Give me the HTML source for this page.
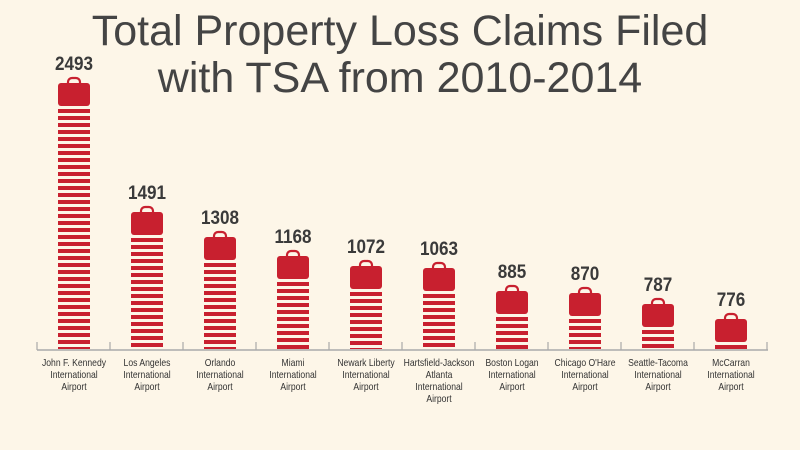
<!DOCTYPE html>
<html><head><meta charset="utf-8"><style>
body{margin:0;background:#fdf6e8;}
svg{display:block}
</style></head><body>
<svg width="800" height="450" xmlns="http://www.w3.org/2000/svg">
<defs>
<pattern id="p0" patternUnits="userSpaceOnUse" x="0" y="109" width="800" height="7"><rect width="800" height="4" fill="#c8202f"/></pattern>
<pattern id="p1" patternUnits="userSpaceOnUse" x="0" y="238" width="800" height="7"><rect width="800" height="4" fill="#c8202f"/></pattern>
<pattern id="p2" patternUnits="userSpaceOnUse" x="0" y="263" width="800" height="7"><rect width="800" height="4" fill="#c8202f"/></pattern>
<pattern id="p3" patternUnits="userSpaceOnUse" x="0" y="282" width="800" height="7"><rect width="800" height="4" fill="#c8202f"/></pattern>
<pattern id="p4" patternUnits="userSpaceOnUse" x="0" y="292" width="800" height="7"><rect width="800" height="4" fill="#c8202f"/></pattern>
<pattern id="p5" patternUnits="userSpaceOnUse" x="0" y="294" width="800" height="7"><rect width="800" height="4" fill="#c8202f"/></pattern>
<pattern id="p6" patternUnits="userSpaceOnUse" x="0" y="317" width="800" height="7"><rect width="800" height="4" fill="#c8202f"/></pattern>
<pattern id="p7" patternUnits="userSpaceOnUse" x="0" y="319" width="800" height="7"><rect width="800" height="4" fill="#c8202f"/></pattern>
<pattern id="p8" patternUnits="userSpaceOnUse" x="0" y="330" width="800" height="7"><rect width="800" height="4" fill="#c8202f"/></pattern>
</defs>
<rect width="800" height="450" fill="#fdf6e8"/>
<g font-family="Liberation Sans, sans-serif" fill="#444" font-size="43" text-anchor="middle">
<text x="400" y="45">Total Property Loss Claims Filed</text>
<text x="400" y="92">with TSA from 2010-2014</text>
</g>
<line x1="37" y1="350" x2="768" y2="350" stroke="#aaa" stroke-width="1.5"/>
<g stroke="#aaa" stroke-width="1.2">
<line x1="37" y1="342" x2="37" y2="350"/><line x1="110" y1="342" x2="110" y2="350"/><line x1="183" y1="342" x2="183" y2="350"/><line x1="256" y1="342" x2="256" y2="350"/><line x1="329" y1="342" x2="329" y2="350"/><line x1="402" y1="342" x2="402" y2="350"/><line x1="475" y1="342" x2="475" y2="350"/><line x1="548" y1="342" x2="548" y2="350"/><line x1="621" y1="342" x2="621" y2="350"/><line x1="694" y1="342" x2="694" y2="350"/><line x1="767" y1="342" x2="767" y2="350"/>
</g>
<rect x="58" y="109" width="32" height="240" fill="url(#p0)"/>
<rect x="131" y="238" width="32" height="111" fill="url(#p1)"/>
<rect x="204" y="263" width="32" height="86" fill="url(#p2)"/>
<rect x="277" y="282" width="32" height="67" fill="url(#p3)"/>
<rect x="350" y="292" width="32" height="57" fill="url(#p4)"/>
<rect x="423" y="294" width="32" height="55" fill="url(#p5)"/>
<rect x="496" y="317" width="32" height="32" fill="url(#p6)"/>
<rect x="569" y="319" width="32" height="30" fill="url(#p7)"/>
<rect x="642" y="330" width="32" height="19" fill="url(#p8)"/>
<rect x="715" y="345" width="32" height="4" fill="#c8202f"/>
<g fill="#c8202f">
<rect x="58" y="83" width="32" height="23" rx="3"/>
<rect x="131" y="212" width="32" height="23" rx="3"/>
<rect x="204" y="237" width="32" height="23" rx="3"/>
<rect x="277" y="256" width="32" height="23" rx="3"/>
<rect x="350" y="266" width="32" height="23" rx="3"/>
<rect x="423" y="268" width="32" height="23" rx="3"/>
<rect x="496" y="291" width="32" height="23" rx="3"/>
<rect x="569" y="293" width="32" height="23" rx="3"/>
<rect x="642" y="304" width="32" height="23" rx="3"/>
<rect x="715" y="319" width="32" height="23" rx="3"/>
</g>
<g fill="none" stroke="#c8202f" stroke-width="2.2">
<rect x="68" y="78" width="12" height="9" rx="4"/>
<rect x="141" y="207" width="12" height="9" rx="4"/>
<rect x="214" y="232" width="12" height="9" rx="4"/>
<rect x="287" y="251" width="12" height="9" rx="4"/>
<rect x="360" y="261" width="12" height="9" rx="4"/>
<rect x="433" y="263" width="12" height="9" rx="4"/>
<rect x="506" y="286" width="12" height="9" rx="4"/>
<rect x="579" y="288" width="12" height="9" rx="4"/>
<rect x="652" y="299" width="12" height="9" rx="4"/>
<rect x="725" y="314" width="12" height="9" rx="4"/>
</g>
<g font-family="Liberation Sans, sans-serif" font-size="19" font-weight="bold" fill="#3a3a3a" text-anchor="middle">
<text transform="translate(74,70) scale(0.9,1)">2493</text>
<text transform="translate(147,199) scale(0.9,1)">1491</text>
<text transform="translate(220,224) scale(0.9,1)">1308</text>
<text transform="translate(293,243) scale(0.9,1)">1168</text>
<text transform="translate(366,253) scale(0.9,1)">1072</text>
<text transform="translate(439,255) scale(0.9,1)">1063</text>
<text transform="translate(512,278) scale(0.9,1)">885</text>
<text transform="translate(585,280) scale(0.9,1)">870</text>
<text transform="translate(658,291) scale(0.9,1)">787</text>
<text transform="translate(731,306) scale(0.9,1)">776</text>
</g>
<g font-family="Liberation Sans, sans-serif" font-size="10.5" fill="#333" text-anchor="middle">
<g transform="translate(74,0) scale(0.82,1)"><text y="366">John F. Kennedy</text><text y="378">International</text><text y="390">Airport</text></g>
<g transform="translate(147,0) scale(0.82,1)"><text y="366">Los Angeles</text><text y="378">International</text><text y="390">Airport</text></g>
<g transform="translate(220,0) scale(0.82,1)"><text y="366">Orlando</text><text y="378">International</text><text y="390">Airport</text></g>
<g transform="translate(293,0) scale(0.82,1)"><text y="366">Miami</text><text y="378">International</text><text y="390">Airport</text></g>
<g transform="translate(366,0) scale(0.82,1)"><text y="366">Newark Liberty</text><text y="378">International</text><text y="390">Airport</text></g>
<g transform="translate(439,0) scale(0.82,1)"><text y="366">Hartsfield-Jackson</text><text y="378">Atlanta</text><text y="390">International</text><text y="402">Airport</text></g>
<g transform="translate(512,0) scale(0.82,1)"><text y="366">Boston Logan</text><text y="378">International</text><text y="390">Airport</text></g>
<g transform="translate(585,0) scale(0.82,1)"><text y="366">Chicago O'Hare</text><text y="378">International</text><text y="390">Airport</text></g>
<g transform="translate(658,0) scale(0.82,1)"><text y="366">Seattle-Tacoma</text><text y="378">International</text><text y="390">Airport</text></g>
<g transform="translate(731,0) scale(0.82,1)"><text y="366">McCarran</text><text y="378">International</text><text y="390">Airport</text></g>
</g>
</svg>
</body></html>
